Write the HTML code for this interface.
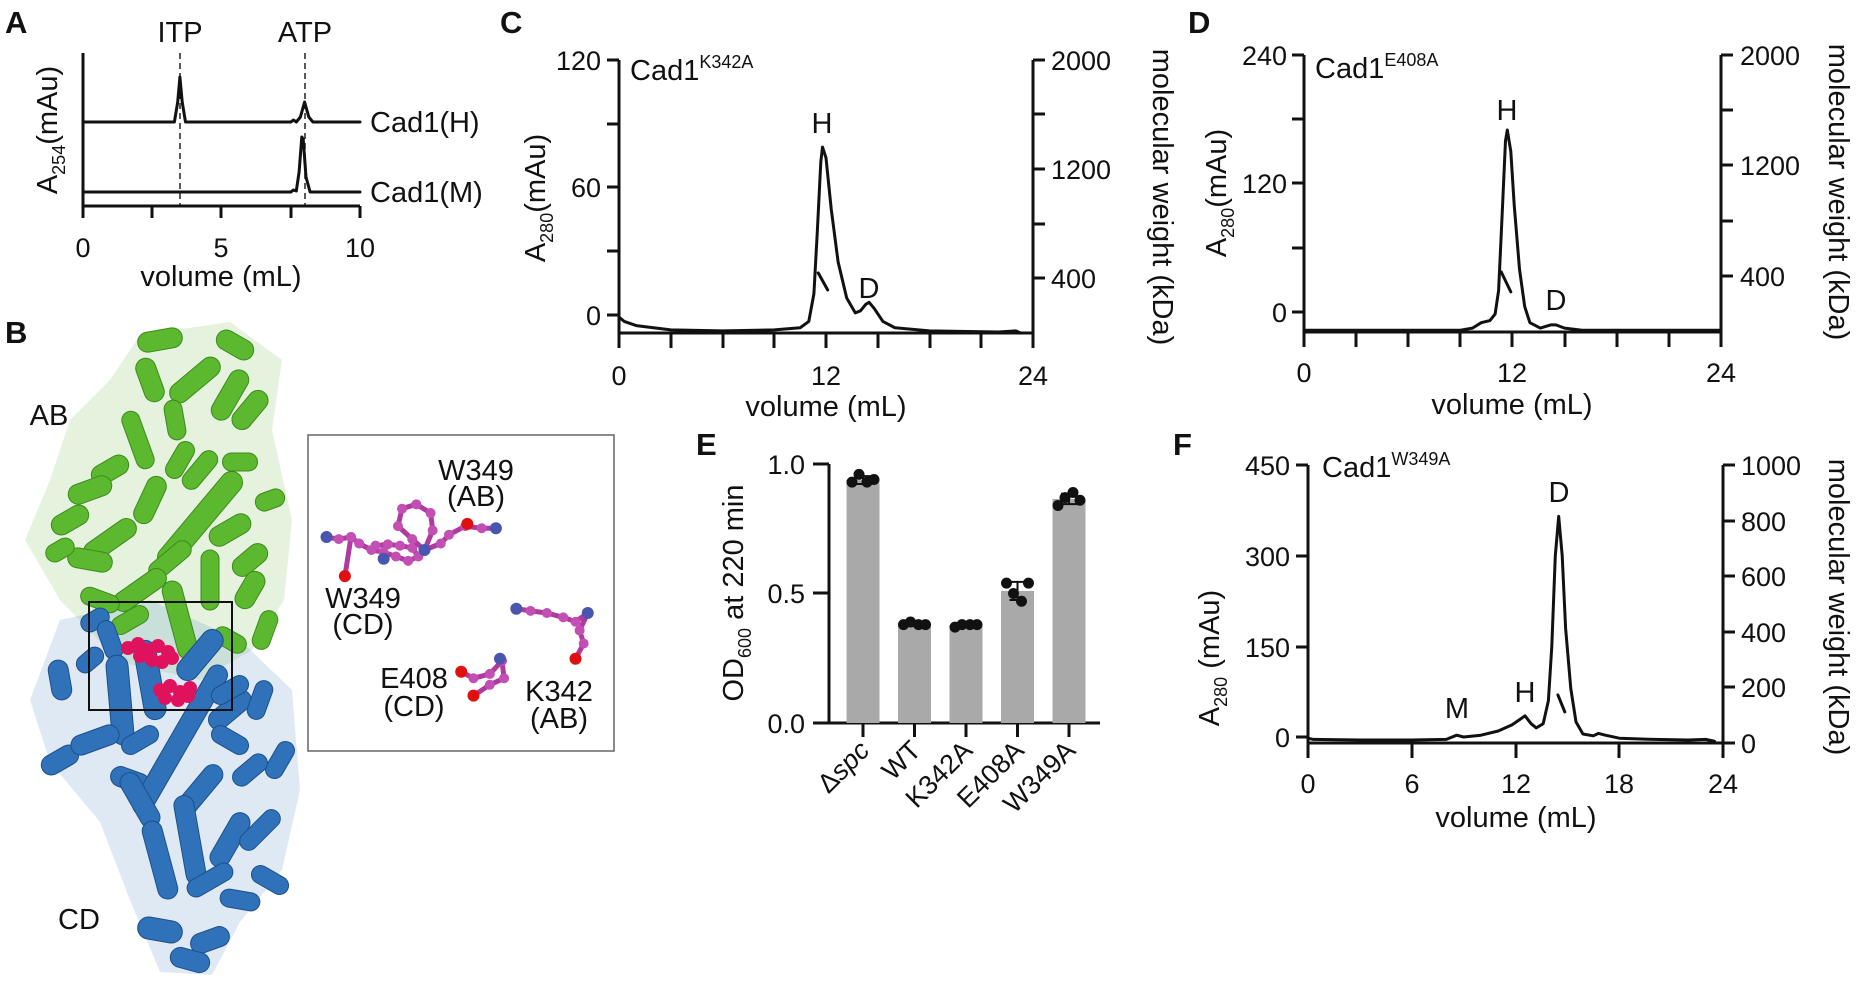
<!DOCTYPE html>
<html><head><meta charset="utf-8">
<style>
html,body{margin:0;padding:0;background:#fff;}
svg{display:block;font-family:"Liberation Sans",Arial,sans-serif;}
text{fill:#111;}
.tk{font-size:27px;}
.lb{font-size:29px;}
.pl{font-size:31px;font-weight:bold;}
.ax{stroke:#111;stroke-width:3;fill:none;}
.tr{stroke:#111;stroke-width:3;fill:none;stroke-linejoin:round;stroke-linecap:round;}
</style></head>
<body>
<svg id="fig" width="1858" height="987" viewBox="0 0 1858 987" xmlns="http://www.w3.org/2000/svg">
<rect width="1858" height="987" fill="#fff"/>

<!-- Panel A -->
<g id="panelA">
<text class="pl" x="5" y="33">A</text>
<text class="lb" x="180" y="42" text-anchor="middle">ITP</text>
<text class="lb" x="305" y="42" text-anchor="middle">ATP</text>
<line x1="180" y1="53" x2="180" y2="206" stroke="#222" stroke-width="1.5" stroke-dasharray="6,4"/>
<line x1="305" y1="53" x2="305" y2="206" stroke="#222" stroke-width="1.5" stroke-dasharray="6,4"/>
<path class="ax" d="M83,53 V206 H360"/>
<path class="ax" d="M83,206V218 M152,206V218 M221,206V218 M291,206V218 M360,206V218"/>
<text class="tk" x="83" y="257" text-anchor="middle">0</text>
<text class="tk" x="221" y="257" text-anchor="middle">5</text>
<text class="tk" x="360" y="257" text-anchor="middle">10</text>
<text class="lb" x="221" y="286" text-anchor="middle">volume (mL)</text>
<text class="lb" transform="translate(57,130) rotate(-90)" text-anchor="middle">A<tspan font-size="18" dy="8">254</tspan><tspan dy="-8">(mAu)</tspan></text>
<text class="lb" x="370" y="132">Cad1(H)</text>
<text class="lb" x="370" y="202">Cad1(M)</text>
<g id="traceA"></g>
</g>

<!-- Panel B -->
<g id="panelB">
<text class="pl" x="5" y="343">B</text>
<g id="protein"></g>
<rect x="89" y="602" width="143" height="108" fill="none" stroke="#111" stroke-width="2"/>
<text class="lb" x="49" y="425" text-anchor="middle">AB</text>
<text class="lb" x="79" y="929" text-anchor="middle">CD</text>
<rect x="308" y="435" width="306" height="316" fill="none" stroke="#666" stroke-width="1.5"/>
<g id="mols"></g>
<text class="lb" x="476" y="480" text-anchor="middle">W349</text>
<text class="lb" x="476" y="506" text-anchor="middle">(AB)</text>
<text class="lb" x="363" y="608" text-anchor="middle">W349</text>
<text class="lb" x="363" y="634" text-anchor="middle">(CD)</text>
<text class="lb" x="414" y="688" text-anchor="middle">E408</text>
<text class="lb" x="414" y="716" text-anchor="middle">(CD)</text>
<text class="lb" x="559" y="701" text-anchor="middle">K342</text>
<text class="lb" x="559" y="728" text-anchor="middle">(AB)</text>
</g>

<!-- Panel C -->
<g id="panelC">
<text class="pl" x="500" y="33">C</text>
<path class="ax" d="M619,60 V333 H1033 V60"/>
<path class="ax" d="M607,60H619 M607,124H619 M607,187H619 M607,251H619 M607,315H619"/>
<path class="ax" d="M1033,60H1045 M1033,114H1045 M1033,169H1045 M1033,224H1045 M1033,278H1045"/>
<path class="ax" d="M619,333V348 M671,333V348 M723,333V348 M774,333V348 M826,333V348 M878,333V348 M930,333V348 M981,333V348 M1033,333V348"/>
<text class="tk" x="601" y="70" text-anchor="end">120</text>
<text class="tk" x="601" y="197" text-anchor="end">60</text>
<text class="tk" x="601" y="325" text-anchor="end">0</text>
<text class="tk" x="1051" y="70">2000</text>
<text class="tk" x="1051" y="179">1200</text>
<text class="tk" x="1051" y="288">400</text>
<text class="tk" x="619" y="385" text-anchor="middle">0</text>
<text class="tk" x="826" y="385" text-anchor="middle">12</text>
<text class="tk" x="1033" y="385" text-anchor="middle">24</text>
<text class="lb" x="826" y="416" text-anchor="middle">volume (mL)</text>
<text class="lb" transform="translate(545,198) rotate(-90)" text-anchor="middle">A<tspan font-size="18" dy="8">280</tspan><tspan dy="-8">(mAu)</tspan></text>
<text class="lb" transform="translate(1153,197) rotate(90)" text-anchor="middle">molecular weight (kDa)</text>
<text class="lb" x="630" y="80">Cad1<tspan font-size="18" dy="-12">K342A</tspan></text>
<text class="lb" x="822" y="133" text-anchor="middle">H</text>
<text class="lb" x="869" y="298" text-anchor="middle">D</text>
<g id="traceC"></g>
</g>

<!-- Panel D -->
<g id="panelD">
<text class="pl" x="1188" y="33">D</text>
<path class="ax" d="M1304,55 V332 H1721 V55"/>
<path class="ax" d="M1292,55H1304 M1292,119H1304 M1292,183H1304 M1292,248H1304 M1292,312H1304"/>
<path class="ax" d="M1721,55H1733 M1721,110H1733 M1721,165H1733 M1721,221H1733 M1721,276H1733"/>
<path class="ax" d="M1304,332V347 M1356,332V347 M1408,332V347 M1460,332V347 M1512,332V347 M1565,332V347 M1617,332V347 M1669,332V347 M1721,332V347"/>
<text class="tk" x="1287" y="65" text-anchor="end">240</text>
<text class="tk" x="1287" y="193" text-anchor="end">120</text>
<text class="tk" x="1287" y="322" text-anchor="end">0</text>
<text class="tk" x="1740" y="65">2000</text>
<text class="tk" x="1740" y="175">1200</text>
<text class="tk" x="1740" y="286">400</text>
<text class="tk" x="1304" y="382" text-anchor="middle">0</text>
<text class="tk" x="1512" y="382" text-anchor="middle">12</text>
<text class="tk" x="1721" y="382" text-anchor="middle">24</text>
<text class="lb" x="1512" y="414" text-anchor="middle">volume (mL)</text>
<text class="lb" transform="translate(1226,193) rotate(-90)" text-anchor="middle">A<tspan font-size="18" dy="8">280</tspan><tspan dy="-8">(mAu)</tspan></text>
<text class="lb" transform="translate(1829,192) rotate(90)" text-anchor="middle">molecular weight (kDa)</text>
<text class="lb" x="1315" y="78">Cad1<tspan font-size="18" dy="-12">E408A</tspan></text>
<text class="lb" x="1507" y="120" text-anchor="middle">H</text>
<text class="lb" x="1556" y="310" text-anchor="middle">D</text>
<g id="traceD"></g>
</g>

<!-- Panel E -->
<g id="panelE">
<text class="pl" x="696" y="455">E</text>
<path class="ax" d="M829,464 V723 M813,723 H1100"/>
<path class="ax" d="M813,464H829 M813,593H829"/>
<text class="tk" x="805" y="474" text-anchor="end">1.0</text>
<text class="tk" x="805" y="603" text-anchor="end">0.5</text>
<text class="tk" x="805" y="733" text-anchor="end">0.0</text>
<text class="lb" transform="translate(743,593) rotate(-90)" text-anchor="middle">OD<tspan font-size="18" dy="8">600</tspan><tspan dy="-8"> at 220 min</tspan></text>
<g id="barsE"></g>
</g>

<!-- Panel F -->
<g id="panelF">
<text class="pl" x="1173" y="455">F</text>
<path class="ax" d="M1308,465 V743 H1723 V465"/>
<path class="ax" d="M1296,465H1308 M1296,556H1308 M1296,647H1308 M1296,737H1308"/>
<path class="ax" d="M1723,465H1735 M1723,521H1735 M1723,576H1735 M1723,632H1735 M1723,687H1735 M1723,743H1735"/>
<path class="ax" d="M1308,743V758 M1412,743V758 M1516,743V758 M1619,743V758 M1723,743V758"/>
<text class="tk" x="1290" y="475" text-anchor="end">450</text>
<text class="tk" x="1290" y="566" text-anchor="end">300</text>
<text class="tk" x="1290" y="657" text-anchor="end">150</text>
<text class="tk" x="1290" y="747" text-anchor="end">0</text>
<text class="tk" x="1741" y="475">1000</text>
<text class="tk" x="1741" y="531">800</text>
<text class="tk" x="1741" y="586">600</text>
<text class="tk" x="1741" y="642">400</text>
<text class="tk" x="1741" y="697">200</text>
<text class="tk" x="1741" y="753">0</text>
<text class="tk" x="1308" y="793" text-anchor="middle">0</text>
<text class="tk" x="1412" y="793" text-anchor="middle">6</text>
<text class="tk" x="1516" y="793" text-anchor="middle">12</text>
<text class="tk" x="1619" y="793" text-anchor="middle">18</text>
<text class="tk" x="1723" y="793" text-anchor="middle">24</text>
<text class="lb" x="1516" y="827" text-anchor="middle">volume (mL)</text>
<text class="lb" transform="translate(1219,658) rotate(-90)" text-anchor="middle">A<tspan font-size="18" dy="8">280</tspan><tspan dy="-8"> (mAu)</tspan></text>
<text class="lb" transform="translate(1829,607) rotate(90)" text-anchor="middle">molecular weight (kDa)</text>
<text class="lb" x="1322" y="477">Cad1<tspan font-size="18" dy="-12">W349A</tspan></text>
<text class="lb" x="1559" y="502" text-anchor="middle">D</text>
<text class="lb" x="1525" y="702" text-anchor="middle">H</text>
<text class="lb" x="1457" y="718" text-anchor="middle">M</text>
<g id="traceF"></g>
</g>
</svg>

<script>
// ---------- Panel A data ----------
const aHVol = [0, 3.3, 3.42, 3.5, 3.58, 3.7, 7.5, 7.6, 7.7, 7.85, 8.0, 8.15, 8.3, 10];
const aHAbs = [0, 0, 20, 45, 20, 0, 0, 2, 0, 5, 20, 5, 0, 0];
const aMVol = [0, 7.5, 7.6, 7.7, 7.8, 7.9, 7.95, 8.05, 8.2, 10];
const aMAbs = [0, 0, 2, 1, 20, 55, 53, 15, 0, 0];
// ---------- Panel C data ----------
const cVol = [0, 0.3, 1, 3, 6, 9, 10.5, 11, 11.3, 11.5, 11.7, 11.8, 12, 12.3, 12.7, 13.2, 13.7, 14, 14.3, 14.5, 14.8, 15.3, 16, 18, 22, 23, 23.3];
const cAbs = [-1, -3, -5, -7, -7.5, -7, -6, -3, 10, 40, 72, 79, 74, 50, 25, 8, 1, 2, 5, 6, 3, -3, -6, -7.5, -8, -7.5, -8.5];
const cMwVol = [11.55, 12.1];
const cMwKda = [440, 315];
// ---------- Panel D data ----------
const dVol = [0, 9, 9.7, 10.2, 10.7, 11, 11.2, 11.4, 11.6, 11.7, 11.9, 12.1, 12.4, 12.7, 13, 13.6, 14.2, 14.5, 15, 16, 24];
const dAbs = [-17, -17, -15, -10, -8, -2, 20, 90, 160, 170, 150, 100, 40, 5, -10, -15, -12, -12, -15, -17, -17];
const dMwVol = [11.35, 11.9];
const dMwKda = [428, 283];
// ---------- Panel E data ----------
const eCats = ["Δspc", "WT", "K342A", "E408A", "W349A"];
const eMeans = [0.938, 0.38, 0.378, 0.51, 0.865];
const eSd = [0.015, 0.006, 0.006, 0.035, 0.02];
const ePts0 = [0.93, 0.96, 0.93, 0.94];
const ePts1 = [0.38, 0.39, 0.38, 0.38];
const ePts2 = [0.37, 0.38, 0.38, 0.38];
const ePts3 = [0.54, 0.50, 0.47, 0.54];
const ePts4 = [0.84, 0.87, 0.89, 0.86];
// ---------- Panel F data ----------
const fVol = [0, 0.3, 3, 6, 8, 8.6, 9, 10, 11, 11.8, 12.3, 12.55, 12.9, 13.2, 13.6, 13.9, 14.1, 14.3, 14.5, 14.7, 14.9, 15.2, 15.5, 15.9, 16.5, 16.8, 17.2, 18, 20, 22, 23, 23.5];
const fAbs = [-2, -4, -5, -5, -4, 3, 0, 3, 10, 20, 30, 35, 22, 15, 22, 60, 150, 300, 365, 300, 180, 80, 25, 5, 2, 6, 3, -2, -4, -5, -4, -7];
const fMwVol = [14.45, 14.85];
const fMwKda = [173, 112];

const NS = "http://www.w3.org/2000/svg";
function scale(d0, d1, r0, r1) { return v => r0 + (v - d0) / (d1 - d0) * (r1 - r0); }
function line(parent, xs, ys, sx, sy, w) {
  const p = document.createElementNS(NS, "path");
  let d = "";
  for (let i = 0; i < xs.length; i++) d += (i ? "L" : "M") + sx(xs[i]).toFixed(1) + "," + sy(ys[i]).toFixed(1);
  p.setAttribute("d", d);
  p.setAttribute("class", "tr");
  if (w) p.setAttribute("stroke-width", w);
  parent.appendChild(p);
  return p;
}

// Panel A
(function () {
  const g = document.getElementById("traceA");
  const sx = scale(0, 10, 83, 360);
  const syH = scale(0, 1, 122, 121);
  const syM = scale(0, 1, 192, 191);
  let p = line(g, aHVol, aHAbs, sx, syH, 2.5);
  
  
  p = line(g, aMVol, aMAbs, sx, syM, 2.5);
  
  
})();

// Panel C
(function () {
  const g = document.getElementById("traceC");
  const sx = scale(0, 24, 619, 1033);
  const sy = scale(0, 120, 315, 60);
  const smw = scale(0, 2000, 333, 60);
  let p = line(g, cVol, cAbs, sx, sy);
  
  
  p = line(g, cMwVol, cMwKda, sx, smw);
  
  
})();

// Panel D
(function () {
  const g = document.getElementById("traceD");
  const sx = scale(0, 24, 1304, 1721);
  const sy = scale(0, 240, 312, 55);
  const smw = scale(0, 2000, 331, 55);
  let p = line(g, dVol, dAbs, sx, sy);
  
  
  p = line(g, dMwVol, dMwKda, sx, smw);
  
  
})();

// Panel F
(function () {
  const g = document.getElementById("traceF");
  const sx = scale(0, 24, 1308, 1723);
  const sy = scale(0, 450, 737, 465);
  const smw = scale(0, 1000, 743, 465);
  let p = line(g, fVol, fAbs, sx, sy);
  
  
  p = line(g, fMwVol, fMwKda, sx, smw);
  
  
})();

// Panel E
(function () {
  const g = document.getElementById("barsE");
  const pts = [ePts0, ePts1, ePts2, ePts3, ePts4];
  const sy = scale(0, 1, 723, 464);
  const bx = i => 863 + i * 51.5;
  const bw = 33;
  const dx = [-11, -4, 4, 11];
  for (let i = 0; i < eCats.length; i++) {
    const r = document.createElementNS(NS, "rect");
    r.setAttribute("x", bx(i) - bw / 2);
    r.setAttribute("y", sy(eMeans[i]));
    r.setAttribute("width", bw);
    r.setAttribute("height", sy(0) - sy(eMeans[i]));
    r.setAttribute("fill", "#a9a9a9");
    
    
    g.appendChild(r);
    const e = document.createElementNS(NS, "path");
    const t = sy(eMeans[i] + eSd[i]), b = sy(eMeans[i] - eSd[i]);
    e.setAttribute("d", `M${bx(i)},${t}V${b}M${bx(i)-8},${t}H${bx(i)+8}M${bx(i)-8},${b}H${bx(i)+8}`);
    e.setAttribute("stroke", "#111");
    e.setAttribute("stroke-width", "2");
    
    
    g.appendChild(e);
    pts[i].forEach((v, k) => {
      const c = document.createElementNS(NS, "circle");
      c.setAttribute("cx", bx(i) + dx[k]);
      c.setAttribute("cy", sy(v));
      c.setAttribute("r", 5.5);
      c.setAttribute("fill", "#111");
      
      
      g.appendChild(c);
    });
    const tk = document.createElementNS(NS, "line");
    tk.setAttribute("x1", bx(i)); tk.setAttribute("x2", bx(i));
    tk.setAttribute("y1", 723); tk.setAttribute("y2", 737);
    tk.setAttribute("stroke", "#111"); tk.setAttribute("stroke-width", "3");
    
    
    g.appendChild(tk);
    const tx = document.createElementNS(NS, "text");
    tx.setAttribute("class", "tk");
    tx.setAttribute("text-anchor", "end");
    tx.setAttribute("transform", `translate(${bx(i) + 8},752) rotate(-45)`);
    if (i === 0) {
      tx.innerHTML = 'Δ<tspan font-style="italic">spc</tspan>';
    } else {
      tx.textContent = eCats[i];
    }
    
    
    g.appendChild(tx);
  }
})();

// Panel B protein cartoon (decorative)
(function () {
  const g = document.getElementById("protein");
  const blobs = [
    ["#7cc35a", "M140,335 L230,322 L282,360 L272,430 L292,520 L284,600 L252,650 L200,680 L120,662 L60,600 L25,540 L50,480 L70,420 L110,380 Z"],
    ["#5b8fc8", "M60,620 L150,600 L240,640 L292,690 L300,790 L282,870 L240,922 L212,975 L160,972 L130,900 L100,822 L50,762 L30,700 Z"]
  ];
  blobs.forEach(b => {
    const p = document.createElementNS(NS, "path");
    p.setAttribute("d", b[1]); p.setAttribute("fill", b[0]); p.setAttribute("opacity", "0.2");
    
    
    g.appendChild(p);
  });
  const green = [[160,340,45,-10,16],[235,345,40,30,16],[150,380,45,70,16],[195,380,60,-40,16],[230,395,55,-60,16],[175,420,40,80,14],[250,410,45,-50,16],
    [138,440,60,70,14],[180,460,40,-60,14],[240,462,35,0,14],[110,470,40,-30,16],[90,490,45,-20,16],[150,500,50,-65,16],[200,470,45,-50,14],[200,520,120,-50,18],
    [70,520,40,-30,16],[110,540,60,-35,16],[170,560,50,-40,14],[230,530,45,-30,16],[250,560,40,-40,16],[270,500,30,-20,14],[90,560,45,10,16],[60,550,30,-30,14],
    [140,590,60,-35,16],[180,620,80,75,16],[210,580,60,90,14],[250,590,40,-60,16],[265,630,40,-70,14],[100,600,40,20,14],[130,620,40,-30,14],[230,640,35,30,14]];
  const blue = [[95,620,30,-30,14],[110,640,40,70,14],[150,680,80,80,18],[200,655,60,-50,18],[120,700,90,85,18],[60,680,40,80,16],[90,660,30,-40,14],[60,760,40,-30,16],
    [95,740,50,-20,16],[130,780,40,20,16],[180,740,170,-60,16],[230,710,50,-40,16],[260,700,40,-70,14],[230,690,40,-30,14],[280,760,40,-60,14],[250,770,40,-40,14],
    [200,790,60,-50,16],[140,800,60,60,16],[190,840,90,80,16],[160,860,80,75,16],[230,840,60,-60,16],[260,830,50,-45,14],[270,880,40,30,14],[210,880,50,-30,14],
    [240,900,40,10,14],[160,930,45,10,18],[210,940,40,-20,16],[190,960,40,15,16],[140,740,40,-30,14],[230,740,40,30,14]];
  function cyl(c, col, dark) {
    const [cx, cy, len, ang, w0] = c;
    const w = w0 + 4;
    const r = document.createElementNS(NS, "rect");
    r.setAttribute("x", cx - len / 2); r.setAttribute("y", cy - w / 2);
    r.setAttribute("width", len); r.setAttribute("height", w); r.setAttribute("rx", w / 2);
    r.setAttribute("fill", col); r.setAttribute("stroke", dark); r.setAttribute("stroke-width", "1");
    r.setAttribute("transform", `rotate(${ang},${cx},${cy})`);
    
    
    g.appendChild(r);
  }
  green.forEach(c => cyl(c, "#5cb82e", "#3d8a1c"));
  blue.forEach(c => cyl(c, "#2f72ba", "#1d4f88"));
  const pink = [[128,648],[138,644],[148,650],[158,646],[168,652],[140,656],[152,660],[162,662],[172,658],[160,690],[170,686],[180,692],[190,688],[165,698],[178,700],[188,696]];
  pink.forEach(p => {
    const c = document.createElementNS(NS, "circle");
    c.setAttribute("cx", p[0]); c.setAttribute("cy", p[1]); c.setAttribute("r", 7);
    c.setAttribute("fill", "#e0125e");
    
    
    g.appendChild(c);
  });
})();

// Inset residue sticks (decorative)
(function () {
  const g = document.getElementById("mols");
  const zx = x => x / 2.45, zy = y => 300 + y / 2.3;
  const chains = [
    [[800,545],[830,550],[860,545],[880,560],[910,575],[940,580],[970,590],[1000,600],[1025,590],[1010,570],[980,565],[950,562],[920,565]],
    [[860,545],[845,635]],
    [[1040,575],[1010,550],[975,520],[985,480],[1020,470],[1055,490],[1060,530],[1040,575],[1080,560],[1100,540],[1140,520],[1180,525],[1215,525]],
    [[1265,710],[1300,715],[1340,720],[1380,730],[1410,740],[1440,720],[1420,760],[1430,790],[1410,825]],
    [[1130,855],[1160,870],[1200,860],[1230,830],[1235,870],[1200,885],[1160,910]]
  ];
  chains.forEach(ch => {
    const p = document.createElementNS(NS, "path");
    p.setAttribute("d", ch.map((q, i) => (i ? "L" : "M") + zx(q[0]).toFixed(1) + "," + zy(q[1]).toFixed(1)).join(""));
    p.setAttribute("fill", "none"); p.setAttribute("stroke", "#b03aa0"); p.setAttribute("stroke-width", "5");
    p.setAttribute("stroke-linejoin", "round");
    
    
    g.appendChild(p);
    ch.forEach(q => {
      const c = document.createElementNS(NS, "circle");
      c.setAttribute("cx", zx(q[0])); c.setAttribute("cy", zy(q[1])); c.setAttribute("r", 5);
      c.setAttribute("fill", "#c34fb4");
      
      
      g.appendChild(c);
    });
  });
  const hetero = [[800,545,"#4a55b0"],[845,635,"#e01010"],[940,595,"#4a55b0"],[1040,575,"#4a55b0"],[1145,515,"#e01010"],[1215,525,"#4a55b0"],
    [1265,710,"#4a55b0"],[1440,720,"#4a55b0"],[1410,825,"#e01010"],[1130,855,"#e01010"],[1160,910,"#e01010"],[1225,825,"#4a55b0"]];
  hetero.forEach(h => {
    const c = document.createElementNS(NS, "circle");
    c.setAttribute("cx", zx(h[0])); c.setAttribute("cy", zy(h[1])); c.setAttribute("r", 6);
    c.setAttribute("fill", h[2]);
    
    
    g.appendChild(c);
  });
})();
</script>
</body></html>
